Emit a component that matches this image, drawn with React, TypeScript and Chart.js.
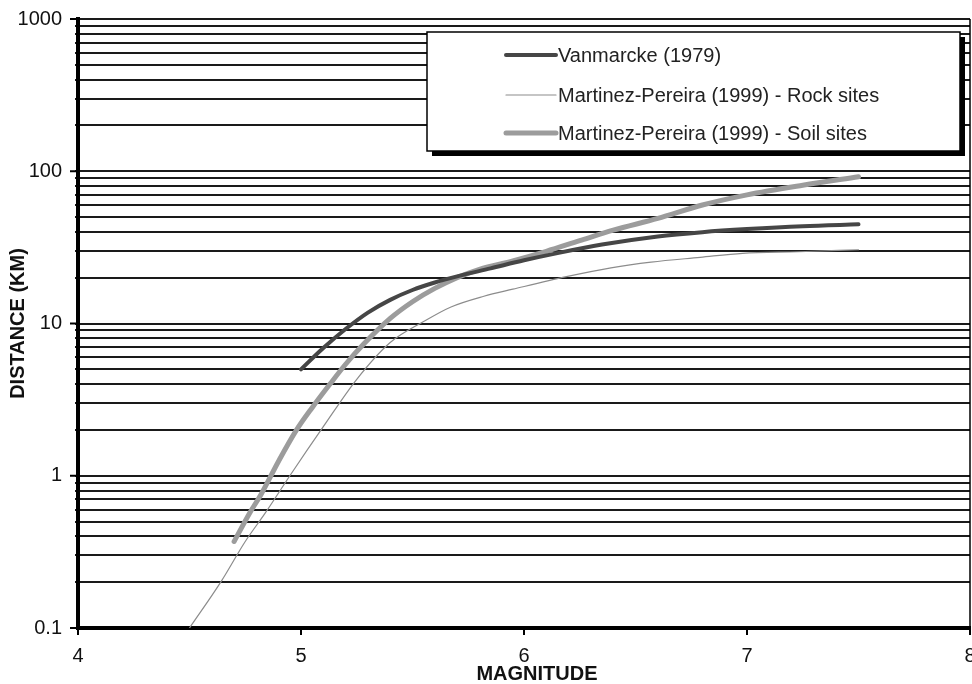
import React, { useEffect, useRef } from "react";
import { Chart, registerables } from "chart.js";

Chart.register(...registerables);

// ---- data ----
const seriesLabels = [
  "Vanmarcke (1979)",
  "Martinez-Pereira (1999) - Rock sites",
  "Martinez-Pereira (1999) - Soil sites",
];

const vanmarckeM = [5.0, 5.1, 5.2, 5.3, 5.4, 5.5, 5.6, 5.7, 5.85, 6.0, 6.15, 6.35, 6.6, 6.8, 7.0, 7.25, 7.5];
const vanmarckeD = [5.0, 6.9, 9.2, 11.8, 14.3, 16.6, 18.6, 20.4, 23.0, 26.0, 29.0, 33, 37.3, 39.8, 41.7, 43.6, 44.8];

const rockM = [4.5, 4.64, 4.75, 4.84, 4.95, 5.1, 5.25, 5.4, 5.55, 5.67, 5.82, 5.95, 6.19, 6.39, 6.57, 6.79, 6.98, 7.23, 7.5];
const rockD = [0.1, 0.2, 0.37, 0.57, 1.0, 2.1, 4.3, 7.5, 10.3, 12.8, 15.1, 16.8, 20.3, 23.2, 25.3, 27.2, 28.9, 29.6, 30.5];

const soilM = [4.7, 4.77, 4.82, 4.9, 4.98, 5.05, 5.13, 5.2, 5.28, 5.4, 5.5, 5.6, 5.7, 5.8, 5.95, 6.1, 6.25, 6.4, 6.6, 6.8, 7.0, 7.25, 7.5];
const soilD = [0.37, 0.57, 0.75, 1.25, 2.0, 2.8, 4.0, 5.4, 7.3, 10.8, 13.9, 17.0, 20.0, 22.7, 25.8, 29.8, 35, 41, 49, 60, 70, 81, 92];

const yGridValues = [
  0.1, 0.2, 0.3, 0.4, 0.5, 0.6, 0.7, 0.8, 0.9,
  1, 2, 3, 4, 5, 6, 7, 8, 9,
  10, 20, 30, 40, 50, 60, 70, 80, 90,
  100, 200, 300, 400, 500, 600, 700, 800, 900,
  1000,
];
const yLabelValues = [0.1, 1, 10, 100, 1000];
const xTickValues = [4, 5, 6, 7, 8];
const xTitle = "MAGNITUDE";
const yTitle = "DISTANCE (KM)";

const seriesColors = ["#464646", "#8c8c8c", "#9c9c9c"];
const seriesWidths = [4, 1.2, 5];

const FONT = "'Liberation Sans', Arial, sans-serif";

const toXY = (xs: number[], ys: number[]) => xs.map((x, i) => ({ x, y: ys[i] }));

const decorPlugin = {
  id: "decor",
  afterDraw(chart: any) {
    const { ctx, chartArea, scales } = chart;
    const y = scales.y;
    ctx.save();
    // right border
    ctx.strokeStyle = "#000";
    ctx.lineWidth = 1.5;
    ctx.beginPath();
    ctx.moveTo(chartArea.right, chartArea.top);
    ctx.lineTo(chartArea.right, chartArea.bottom);
    ctx.stroke();
    // major y ticks
    ctx.lineWidth = 2;
    yLabelValues.forEach((v) => {
      const py = y.getPixelForValue(v);
      ctx.beginPath();
      ctx.moveTo(chartArea.left - 8, py);
      ctx.lineTo(chartArea.left, py);
      ctx.stroke();
    });

    // x axis title (slightly right of centre, as in the reference)
    ctx.fillStyle = "#111";
    ctx.font = `bold 20px ${FONT}`;
    ctx.textAlign = "center";
    ctx.textBaseline = "middle";
    ctx.fillText(xTitle, (chartArea.left + chartArea.right) / 2 + 13, 674);

    // legend box
    const bx = 427, by = 32, bw = 533, bh = 119;
    ctx.fillStyle = "#000";
    ctx.fillRect(bx + 5, by + 5, bw, bh);
    ctx.fillStyle = "#fff";
    ctx.fillRect(bx, by, bw, bh);
    ctx.strokeStyle = "#000";
    ctx.lineWidth = 1.5;
    ctx.strokeRect(bx, by, bw, bh);

    const rows = [55, 95, 133];
    ctx.font = `20px ${FONT}`;
    ctx.textBaseline = "middle";
    ctx.textAlign = "left";
    chart.data.datasets.forEach((ds: any, i: number) => {
      const ry = rows[i];
      ctx.strokeStyle = ds.borderColor;
      ctx.lineWidth = ds.borderWidth;
      ctx.lineCap = "round";
      ctx.beginPath();
      ctx.moveTo(506, ry);
      ctx.lineTo(556, ry);
      ctx.stroke();
      ctx.fillStyle = "#222";
      ctx.fillText(ds.label, 558, ry + 1);
    });
    ctx.restore();
  },
};

export default function App() {
  const canvasRef = useRef<HTMLCanvasElement | null>(null);

  useEffect(() => {
    if (!canvasRef.current) return;
    const chart = new Chart(canvasRef.current, {
      type: "line",
      data: {
        datasets: [
          { label: seriesLabels[0], data: toXY(vanmarckeM, vanmarckeD) },
          { label: seriesLabels[1], data: toXY(rockM, rockD) },
          { label: seriesLabels[2], data: toXY(soilM, soilD) },
        ].map((d, i) => ({
          ...d,
          borderColor: seriesColors[i],
          backgroundColor: seriesColors[i],
          borderWidth: seriesWidths[i],
          pointRadius: 0,
          fill: false,
          cubicInterpolationMode: "monotone" as const,
          borderCapStyle: "round" as const,
          borderJoinStyle: "round" as const,
        })),
      },
      options: {
        responsive: false,
        animation: false,
        layout: { padding: { top: 19, right: 2, left: 0, bottom: 0 } },
        plugins: { legend: { display: false }, tooltip: { enabled: false } },
        scales: {
          x: {
            type: "linear",
            min: 4,
            max: 8,
            afterBuildTicks: (scale: any) => {
              scale.ticks = xTickValues.map((v) => ({ value: v }));
            },
            afterFit: (scale: any) => {
              scale.height = 56;
              scale.paddingLeft = 0;
              scale.paddingRight = 0;
            },
            ticks: {
              font: { family: FONT, size: 20 },
              color: "#111",
              padding: 9,
              maxRotation: 0,
              autoSkip: false,
            },
            grid: {
              drawOnChartArea: false,
              drawTicks: true,
              tickLength: 7,
              color: "#000",
              lineWidth: 2,
            },
            border: { display: true, color: "#000", width: 4 },
            title: { display: false, text: xTitle },
          },
          y: {
            type: "logarithmic",
            min: 0.1,
            max: 1000,
            z: 1,
            afterBuildTicks: (scale: any) => {
              scale.ticks = yGridValues.map((v) => ({ value: v, major: yLabelValues.includes(v) }));
            },
            afterFit: (scale: any) => {
              scale.width = 78;
              scale.paddingTop = 0;
              scale.paddingBottom = 0;
            },
            ticks: {
              autoSkip: false,
              font: { family: FONT, size: 20 },
              color: "#111",
              padding: 13,
              callback: (v: any) => (yLabelValues.includes(Number(v)) ? String(v) : ""),
            },
            grid: {
              color: "#1a1a1a",
              lineWidth: 2,
              drawTicks: true,
              tickLength: 3,
            },
            border: { display: true, color: "#000", width: 4 },
            title: {
              display: true,
              text: yTitle,
              font: { family: FONT, size: 20, weight: "bold" },
              color: "#111",
              padding: { top: 6, bottom: 0 },
            },
          },
        },
      },
      plugins: [decorPlugin],
    });
    return () => chart.destroy();
  }, []);

  return (
    <div style={{ position: "absolute", left: 0, top: 0, width: 972, height: 684, background: "#fff" }}>
      <canvas ref={canvasRef} width={972} height={684} style={{ display: "block" }} />
    </div>
  );
}
